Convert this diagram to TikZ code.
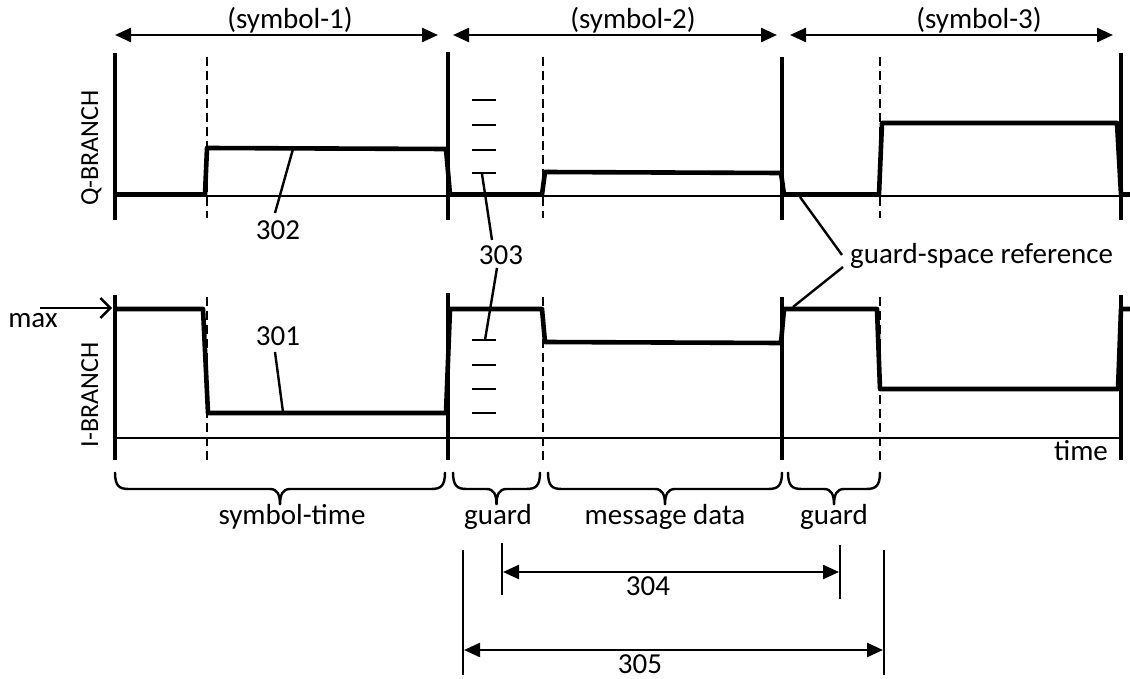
\documentclass[tikz,border=0pt]{standalone}
\usepackage{fontspec}
\setmainfont{Carlito}
\usetikzlibrary{arrows.meta}
\newcommand{\mybrace}[2]{%
  \draw[brc] (#1,472) .. controls (#1,486) and (#1+4,489) .. (#1+14,489)
    -- ({(#1+#2)/2-10},489) .. controls ({(#1+#2)/2-3},489) and ({(#1+#2)/2},494) .. ({(#1+#2)/2},505)
    .. controls ({(#1+#2)/2},494) and ({(#1+#2)/2+3},489) .. ({(#1+#2)/2+10},489)
    -- (#2-14,489) .. controls (#2-4,489) and (#2,486) .. (#2,472);}
\begin{document}
\begin{tikzpicture}[x=1pt,y=-1pt,
  sig/.style={line width=4.6pt, line join=round},
  bound/.style={line width=3.4pt},
  dsh/.style={line width=2.4pt, dash pattern=on 9pt off 5pt},
  base/.style={line width=2.2pt},
  thin/.style={line width=2.4pt},
  brc/.style={line width=2.4pt},
  tick/.style={line width=2.4pt},
  dim/.style={line width=2.4pt, {Triangle[length=16pt,width=14pt]}-{Triangle[length=16pt,width=14pt]}},
  lbl/.style={inner sep=0pt, anchor=base, font=\fontsize{29}{34}\selectfont},
  blbl/.style={inner sep=0pt, anchor=base, rotate=90, font=\fontsize{26}{30}\selectfont}]
\useasboundingbox (0,0) rectangle (1130,679);

% ---- top symbol arrows ----
\coordinate (s1a) at (115,35); \coordinate (s1b) at (438,35);
\coordinate (s2a) at (453,35); \coordinate (s2b) at (777,35);
\coordinate (s3a) at (790,35); \coordinate (s3b) at (1113,35);
\draw[dim] (s1a) -- (s1b);
\draw[dim] (s2a) -- (s2b);
\draw[dim] (s3a) -- (s3b);
\node[lbl] (sym1) at (290,29) {(symbol-1)};
\node[lbl] (sym2) at (633,29) {(symbol-2)};
\node[lbl] (sym3) at (979,29) {(symbol-3)};

% ---- Q branch ----
\draw[base] (113,196) -- (1130,196);
\foreach \x/\t in {115/53,448/52,782/57,1121/53} \draw[bound] (\x,\t) -- (\x,220);
\foreach \x in {207,543,880} \draw[dsh] (\x,57) -- (\x,218);
\draw[sig] (115,194.5) -- (205,194.5) -- (207,148) -- (446,149) -- (450,194.5) -- (542,194.5)
  -- (545,172) -- (781,173) -- (784,194.5) -- (879,194.5) -- (882,123) -- (1117,123)
  -- (1121,194.5) -- (1130,194.5);
\foreach \y in {100,125,150,173} \draw[tick] (472,\y) -- (496,\y);
\node[blbl] (qb) at (98,148) {Q-BRANCH};

% ---- I branch ----
\draw[base] (115,438) -- (1121,438);
\foreach \x/\t in {115/295,448/293,782/297,1121/295} \draw[bound] (\x,\t) -- (\x,460);
\foreach \x in {207,543,880} \draw[dsh] (\x,297) -- (\x,460);
\draw[sig] (115,309) -- (203,309) -- (208,413) -- (446,413) -- (450,309) -- (542,309)
  -- (545,342) -- (781,343) -- (784,309) -- (877,309) -- (880,389) -- (1118,389)
  -- (1121,309) -- (1130,309);
\foreach \y in {340,365,389,413} \draw[tick] (472,\y) -- (496,\y);
\node[blbl] (ib) at (98,395) {I-BRANCH};

% max arrow
\node[lbl] (max) at (33,327) {max};
\coordinate (maxa) at (40,308); \coordinate (maxb) at (112,308);
\draw[thin, -{Straight Barb[length=10pt,width=20pt,line width=2.4pt]}] (maxa) -- (maxb);

% ---- reference labels ----
\node[lbl] (n302) at (278,240) {302};
\coordinate (a302) at (293,149); \coordinate (b302) at (275,213);
\draw[thin] (a302) -- (b302);
\node[lbl] (n301) at (278,345) {301};
\coordinate (a301) at (275,352); \coordinate (b301) at (283,412);
\draw[thin] (a301) -- (b301);
\node[lbl] (n303) at (501,265) {303};
\coordinate (a303) at (492,240); \coordinate (b303) at (482,174);
\coordinate (c303) at (497,268); \coordinate (d303) at (485,340);
\draw[thin] (a303) -- (b303);
\draw[thin] (c303) -- (d303);
\node[inner sep=0pt, anchor=base west, font=\fontsize{29}{34}\selectfont] (gsr) at (850,263) {guard-space reference};
\coordinate (g1a) at (842,255); \coordinate (g1b) at (800,197);
\coordinate (g2a) at (843,267); \coordinate (g2b) at (793,307);
\draw[thin] (g1a) -- (g1b);
\draw[thin] (g2a) -- (g2b);
\node[lbl] (time) at (1081,460) {time};

% ---- braces ----
\mybrace{115}{445}
\mybrace{453}{540}
\mybrace{548}{782}
\mybrace{788}{880}
\node[lbl] (st) at (292,524) {symbol-time};
\node[lbl] (g1) at (498,524) {guard};
\node[lbl] (md) at (665,524) {message data};
\node[lbl] (g2) at (834,524) {guard};

% ---- 304 / 305 ----
\coordinate (p4a) at (502,543); \coordinate (p4b) at (502,595);
\coordinate (p4c) at (840,545); \coordinate (p4d) at (840,599);
\draw[bound, line width=2.8pt] (p4a) -- (p4b);
\draw[bound, line width=2.8pt] (p4c) -- (p4d);
\coordinate (d4a) at (503,572); \coordinate (d4b) at (839,572);
\draw[dim] (d4a) -- (d4b);
\node[lbl] (n304) at (648,595) {304};
\coordinate (p5a) at (463,550); \coordinate (p5b) at (463,675);
\coordinate (p5c) at (884,550); \coordinate (p5d) at (884,675);
\draw[bound, line width=2.8pt] (p5a) -- (p5b);
\draw[bound, line width=2.8pt] (p5c) -- (p5d);
\coordinate (d5a) at (464,650); \coordinate (d5b) at (883,650);
\draw[dim] (d5a) -- (d5b);
\node[lbl] (n305) at (640,673) {305};
\end{tikzpicture}
\end{document}
